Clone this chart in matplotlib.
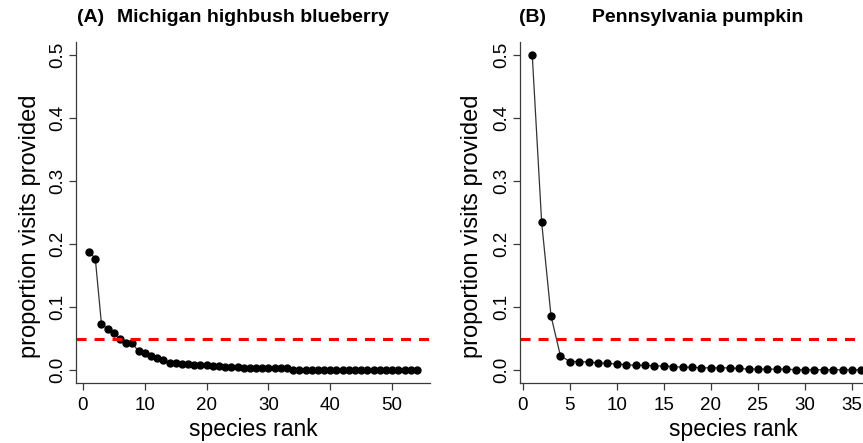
import matplotlib.pyplot as plt

plt.rcParams['font.family'] = ['Liberation Sans', 'DejaVu Sans']

# panel A: Michigan highbush blueberry
rank_a = list(range(1, 55))
prop_a = [0.188, 0.177, 0.073, 0.066, 0.059, 0.049, 0.044, 0.043, 0.030, 0.027,
          0.023, 0.020, 0.016, 0.012, 0.011, 0.010, 0.010, 0.009, 0.009, 0.008,
          0.007, 0.007, 0.006, 0.006, 0.005, 0.004, 0.004, 0.004, 0.004, 0.003,
          0.003, 0.003, 0.003, 0.001, 0.001, 0.001, 0.001, 0.001, 0.001, 0.001,
          0.001, 0.001, 0.001, 0.001, 0.001, 0.001, 0.001, 0.001, 0.001, 0.001,
          0.001, 0.001, 0.001, 0.001]

# panel B: Pennsylvania pumpkin (only the visible part)
rank_b = list(range(1, 37))
prop_b = [0.500, 0.235, 0.086, 0.023, 0.014, 0.014, 0.013, 0.012, 0.011, 0.010,
          0.009, 0.008, 0.008, 0.007, 0.007, 0.006, 0.005, 0.005, 0.004, 0.004,
          0.004, 0.004, 0.003, 0.002, 0.002, 0.002, 0.002, 0.002, 0.001, 0.001,
          0.001, 0.001, 0.001, 0.001, 0.001, 0.001]

threshold = 0.05
yticks = [0.0, 0.1, 0.2, 0.3, 0.4, 0.5]
xticks_a = [0, 10, 20, 30, 40, 50]
xticks_b = [0, 5, 10, 15, 20, 25, 30, 35]

W, H = 863, 443
fig = plt.figure(figsize=(W / 100, H / 100), dpi=100)


def px_axes(left, right, top, bottom):
    return fig.add_axes([left / W, 1 - bottom / H, (right - left) / W, (bottom - top) / H])


def style(ax, xticks, ylab_x):
    for s in ['top', 'right']:
        ax.spines[s].set_visible(False)
    for s in ['left', 'bottom']:
        ax.spines[s].set_color('#3a3a3a')
        ax.spines[s].set_linewidth(0.9)
    ax.set_yticks(yticks)
    ax.set_yticklabels([f'{v:.1f}' for v in yticks], rotation=90, va='center')
    ax.set_xticks(xticks)
    ax.tick_params(direction='out', length=5, width=0.9, color='#3a3a3a',
                   labelsize=13.5)
    ax.tick_params(axis='x', pad=5)
    ax.tick_params(axis='y', pad=2)
    ax.set_ylim(-0.02, 0.52)
    ax.set_xlabel('species rank', fontsize=16.5, labelpad=3)
    ax.set_ylabel('proportion visits provided', fontsize=17)
    ax.yaxis.set_label_coords(ylab_x, 0.46)


def draw(ax, x, y):
    ax.plot(x, y, color='#333333', lw=0.9, marker='o', ms=5, mfc='black', mec='black')
    ax.axhline(threshold, color='#ff0000', lw=2.2, dashes=(3.3, 2.6))


axa = px_axes(76, 430, 42, 383)
draw(axa, rank_a, prop_a)
axa.set_xlim(-1.12, 56.12)
style(axa, xticks_a, -0.10)

axb = px_axes(520, 946, 42, 383)
draw(axb, rank_b, prop_b)
axb.set_xlim(-0.3, 45)
style(axb, xticks_b, -0.088)

fig.text(77 / W, 1 - 18 / H, '(A)', fontsize=14, fontweight='bold', va='center')
fig.text(117 / W, 1 - 18 / H, 'Michigan highbush blueberry', fontsize=14,
         fontweight='bold', va='center')
fig.text(519 / W, 1 - 18 / H, '(B)', fontsize=14, fontweight='bold', va='center')
fig.text(592 / W, 1 - 18 / H, 'Pennsylvania pumpkin', fontsize=14,
         fontweight='bold', va='center')

fig.savefig('out.png', dpi=100)
